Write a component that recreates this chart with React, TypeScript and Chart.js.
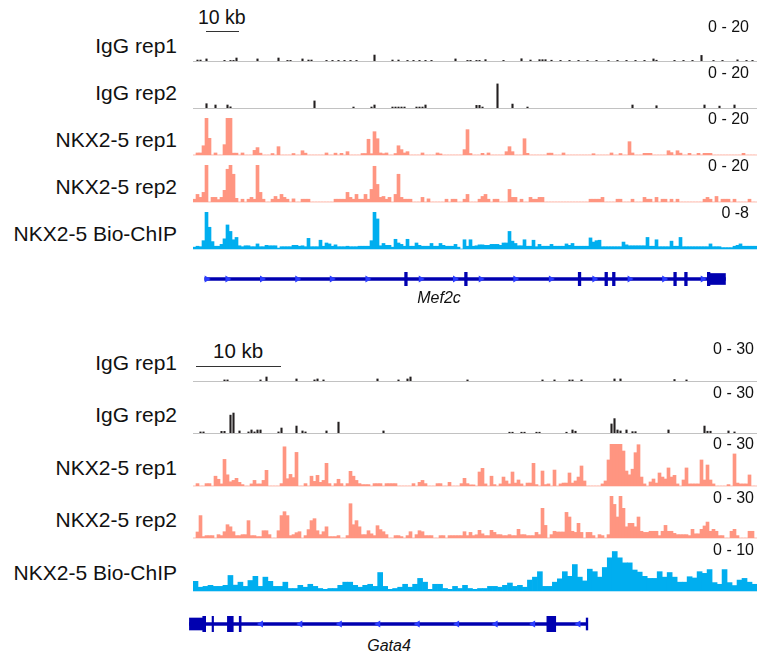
import React, { useEffect, useRef } from "react";
import { Chart, registerables } from "chart.js";

Chart.register(...registerables);

// ---------------- DATA ----------------
const TRACK_NAMES = ["IgG rep1", "IgG rep2", "NKX2-5 rep1", "NKX2-5 rep2", "NKX2-5 Bio-ChIP"];
const MEF2C_RANGES = ["0 - 20", "0 - 20", "0 - 20", "0 - 20", "0 -8"];
const MEF2C_MAX = [20, 20, 20, 20, 8];
const GATA4_RANGES = ["0 - 30", "0 - 30", "0 - 30", "0 - 30", "0 - 10"];
const GATA4_MAX = [30, 30, 30, 30, 10];

// Mef2c locus, 188 bins each
const IGG1_MEF2C = [
  0,0.7,0.7,0,1.3,0,0,0,0,0,0.5,0,0.5,0.5,1.8,0,0,0,0,0,
  0,1.3,0,0,0,0,0,0,1.8,0,0,0.5,0.5,0,0,0,1.3,0,0.7,0.7,
  0,0,0,0,0.5,0,0.5,0,0.5,0,0.5,0,0.5,0,0.5,0,0,0,0,0,
  3.4,0,0,0,0,0,0.7,0,0.7,0,0,0.5,0,0.5,0,0.5,0,0.5,0,0.5,
  0,0,0,0,0,0,0,1.3,0,0,0,0.5,0.5,0,0.5,0.5,0,0.9,0,0,
  0,0,0,0.5,0,0,0,0,0,1.4,0,0,0.7,0,0,0.9,0.9,0.9,0,0.6,
  0,0,0.5,0,0,0.5,0,0,0.5,0,0,0.5,0,0,0.5,0,0,0,0.5,0,
  0,0.5,0,0,0.5,0,0,0.5,0,0,0.5,0,0,1.3,0.6,0,0,0,0,0,
  0.5,0,0,0.5,0,0,0.5,0,0,3.2,0,0,0,0.5,0,0,0.5,0,0,0,
  0,0.8,0,0,0.5,0,0.5,0,
];
const IGG2_MEF2C = [
  0,0,0,0,2.5,0,0,1.8,0,0,0,1.8,0.8,0,0,0,0,0,0,0,
  0,0,0,0,0,0,0,0,0,0,0,0,0,0,0,0,0,0,0,0,
  4,0,0,0,0,0,0,0,0,0,0,0,0,0.7,0,0,0,0,0,0.7,
  1.8,0,0,0,0,0,0.7,0.7,0.7,0.7,0.7,0,0,0,0.7,0.7,0.7,1.8,0,0,
  0,0,0,0,0,0,0,0,0,0,0,0,0,0,1.6,1.6,0.7,0,0,0,
  0,13.2,0,0,0,0,2.3,0,0,0,0,0.7,0,0,0,0,0,0,0,0,
  0,0,0,0,0,0,0,0,0,0,0,0,0,0,0,0,0,0,0,0,
  0,0,0,0,0,0,1.8,0,0,0,0,0,0,0,1.4,0,0,0,0,0,
  0,0,0,0,0,0,0,0,0,0,1.8,0,0,0,0,1.2,0,0,0,0,
  1.8,0,0,0,0,0,0,0,
];
const NKX1_MEF2C = [
  0,1.1,1.1,5,20,9,0,1.1,0,0,5.6,20,20,1,1,0,1.1,0,0,0,
  2.5,4,1,0,0,0,0.8,0,4.5,0,0,0,0,0.8,0,0,2.3,1,0,0,
  0,0,0,0,1.1,0,0,1,0,0.9,0,1.8,0,0,0,0,0.8,0.8,8.5,0.7,
  12.6,8.8,1.1,0.7,1.1,0,0,0.8,5,2.9,1.1,1.8,0,0,0,0,1.1,0,0,0,
  0,1.1,0.6,0,0,0,0,0,0,0,2.9,13.7,0.8,0,0,0,0.9,0,1.1,0,
  0,0,0,0,1.8,4.5,1.8,0,0,0,8.8,0.9,0,0,0,0,0,0,1,1,
  0,0,0,1.1,0,0,0,0,0,0,0,0,0,0.7,0,0,0,0,0,1.1,
  0,0,0.8,0,0,7.2,1.1,0,0,0,0.9,0.9,0.9,0,0,0,0,0,2.3,1.3,
  0,2.3,1,0,0,0.9,0,0,0.9,0,0.9,0.9,0.9,0,0,0,0,0,0,0,
  0,0,0,0.9,0,0,0,0,
];
const NKX2_MEF2C = [
  1.5,4.1,2.5,5.2,20,0,2.5,2.5,1.3,2.5,6.3,17.7,20,15,2,0,1.5,0,1.5,2.5,
  1.5,20,5.2,1.5,0,0,1.5,3,1.5,4.1,2.5,1.5,0,1.7,0,0,1.5,1.5,1.5,0,
  0,0,0,0,0,0,0,1.5,1.5,1.5,1.5,5.2,2.5,1.5,4.1,1.5,1.5,4.1,1.5,6.8,
  19.3,9.5,2.5,3,1.5,2.5,0,4.1,15,2.5,1.5,1.5,1.5,0,0,0,2.5,0,1.7,0,
  0,0,0,0,1.5,0,1.5,1.5,0,0,1.5,4.1,0,0,0,1.5,3,4.1,1.5,0,
  1.5,1.5,0,0,0,6.8,2.5,2.5,0,1.5,0,0,2.5,1.5,1.5,2.5,2.5,0,0,0,
  0,0,0,0,0,0,0,0,0,0,0,0,1.5,1.5,1.5,1.5,2.5,0,0,0,
  0,1.5,1.5,0,0,0,1.5,0,0,0,2.5,1.5,1.5,0,2.5,0,1.5,1.5,0,1.5,
  0,1.5,0,0,0,0,0,0,0,0,1.5,2.5,1.5,0,3,0,1.5,1.5,1.5,0,
  1.5,0,0,0,0,1.5,0,0,
];
const BIO_MEF2C = [
  0.4,0.6,0.5,1.8,8,4.7,1.6,0.6,0.6,1,2.2,5.2,3.8,2,2.5,0.7,0.5,0.7,0.7,0.5,
  0.5,1.1,0.5,0.5,0.8,0.7,0.7,0.7,0.2,0.5,0.5,0.5,0.5,0.8,0.8,0.6,0.7,0.5,2.3,0.5,
  0.5,0.5,1.9,0.6,1.3,1.1,0.6,0.9,0.5,0.5,0.5,0.6,0.5,0.5,0.5,0.6,0.6,0.6,0.6,1.8,
  8,6.5,0.7,1.2,0.8,0.8,0.4,2.1,1.3,1,0.6,2.1,0.6,0.6,1.3,0.8,0.6,0.6,0.6,1.2,
  0.6,0.6,1.2,0.8,0.6,0.6,0.6,1,0.4,0,2,0.6,2,0.6,0.7,0.9,0.9,0.8,0.8,1,
  1,1,0.8,1.3,1.3,3.8,1.7,1.2,0.7,0.7,2,0.6,0.6,1.9,0.5,1,0.6,0.6,0.6,1,
  0.6,0.6,0.6,0.6,1.1,0.8,1.2,0.6,0.6,0.6,0.6,0.6,2.4,1.5,1.8,1.9,0.5,0.5,0.5,0.5,
  0.5,0.5,0.5,1.5,0.9,0.7,0.7,0.7,0.7,0.7,0.7,2.5,0.6,0.6,2,0.5,0.5,0.5,0.5,1.7,
  0.6,0.6,2.5,0.5,0.5,0.5,0.5,0.5,0.5,0.5,0.5,0.5,1.1,0.5,0.5,0.5,0.3,0.3,0.3,0.3,
  0.6,0.8,1.1,0.6,0.6,0.6,0.6,0.6,
];

// Gata4 locus, 188 bins (Bio-ChIP: 113 wider bins)
const IGG1_GATA4 = [
  0,0,0,0,0,0,0,0,0,0,1,1,0,0,0,0,0,0,0,0,
  0,0,1,0,3.1,0,0,0,0,0,0,0,0,0,1.7,0,0,0,0,0,
  1,1.7,0,1,0,0,0,0,0,0,0,0,0,0,0,0,0,0,0,0,
  0,1.7,0,0,0,0,0,0,1,0,0,1.7,3.1,0,0,0,0,0,0,0,
  0,0,0,0,0,0,0,0,0,0,0,1,0,0,0,0,0,0,0,0,
  0,0,0,0,0,0,0,0,0,0,0,0,0,0,0,0,1,0,0,0,
  1,0,0,0,0,1,1,0,0,1,0,0,0,0,0,0,0,0,0,0,
  1.7,0,1.7,0,0,0,0,0,0,0,0,0,0,0,0,0,0,0,0,0,
  1.3,0,0,0,1,0,0,0,0,0,0,0,0,0,0,0,0,0,0,0,
  0,0,0,0,0,0,0,0,
];
const IGG2_GATA4 = [
  0,0,1,1,0,0,0,0,0,1.4,1.4,0,13,14.5,0,1.7,0,0,1,2.4,
  1,2.4,2.4,0,0,0,0,0,1,3.8,0,0,0,0,5.2,0,1.7,1,0,0,
  0,0,0,0,1.7,0,0,0,8,0,0,0,0,0,0,0,0,0,0,0,
  0,0,0,1.7,0,0,0,0,0,0,0,0,0,0,0,0,0,0,0,0,
  0,0,0,0,0,0,0,0,0,0,0,0,0,0,0,0,0,0,0,0,
  0,0,0,0,0,0.8,0.8,0,0,0.8,0.8,0,0,0,0.8,0.8,0,0,0,0,
  0,0,0,0,0.8,0,2.4,1.5,0,0,0,0,0,0,0,0,0,0,0,6.7,
  10.5,2.4,1.7,0,2.4,0,1.2,1.2,0,0,0,0,0,0,0,0,0,0,2.4,0,
  0,0,0,0,0,0,0,0,0,0,5.2,1.5,1.5,0,0,0,0,0,1.7,0,
  1,0,0,0,0,0,0,0,
];
const NKX1_GATA4 = [
  0,1.7,0,0,1.7,1.7,0,7,4.8,1.5,19,8,3,4,5.5,2.6,1,0,0,1.5,
  4,1.5,1.5,4,11.2,0,0,0,0,1.7,28,5.2,8.3,6,24,0,0,1.7,0,7,
  3.3,7.6,2.6,4,16.2,1.7,0,1.7,4.8,1.7,0,1.7,10.5,7,4,1.7,1,1,1,0,
  1.7,1.7,1.7,0,1.7,1.7,1.7,1.7,0,0,0,0,0,1.7,0,2.6,4,1.7,0,0,
  0,1.7,1.7,0,0,2.6,0,0,0,1.7,5.5,1.7,0.8,0.8,0,10,12.6,1.5,0,7,
  1,0,1.5,6.4,3.6,1.5,10,2.1,4.3,1.5,0,2.1,2.1,16.2,1,0,10.7,1,1.5,0,
  11.4,0,1.5,2.1,2.1,9.3,2.1,3.6,6.4,14.3,3.6,0,0,0,0,0,1.5,3.6,18.6,30,
  30,30,30,25,10.7,8,12,23.8,29.5,6.4,1.5,0,2.9,5,2.1,9.3,6.4,5,12.9,6.4,
  7.6,1.5,0,4.3,12.9,1.5,1.5,1.5,1.5,18.6,4.3,15,4.3,1.5,0,0,0,0,1,0,
  22.9,2.1,1.5,1.5,1.5,7.9,0,0,
];
const NKX2_GATA4 = [
  0,4.3,16,1,1.7,1.7,1.7,0,2.4,1.7,4.5,9.5,8,4.5,1.7,1.7,2.4,2.4,12.4,1.7,
  1.7,1,1,5.2,5.2,2.4,0,0,5.2,16,18.8,16,1.7,2.4,3.8,4.5,0,1.7,6,12.4,
  13.8,5.2,2.4,4.5,8,1,1,1,1.7,0,0,1.7,24.5,9.5,12.4,8,2.4,2.4,5.2,3,
  1.7,8.8,6,4.5,2.4,0,0,1.7,1.7,1,0,1.7,4.5,0,2.4,5.2,4.5,1.7,1.7,1.7,
  0,0,1.7,1.7,0,1.7,1.7,1.7,1.7,1.7,4.5,1.7,4,1.7,2.3,5.5,3,1.7,1.7,5.5,
  4,2.4,2.4,1.7,1.7,2.4,1.7,1.7,6.2,2.4,2.4,1.7,1.7,1.7,4,2.4,21.2,9,0,2.4,
  4.8,4.3,4.3,4.3,18.3,15,4.8,4,10.5,4,0,4,4,1.7,0,2.4,1.7,0,2.4,30,
  24,15,30,21.2,8,10.5,10.5,8,15,4.8,4,4,4.8,4.8,4.8,1.7,4.8,9,4.8,4.8,
  3.3,2.4,2.4,2.4,2.4,1.7,6.2,3,3,6.2,8.6,11.4,4.8,6.2,4.8,1.7,1.7,0,0,4.8,
  6.2,1.7,0,0,0,4.8,4.8,0,
];
const BIO_GATA4 = [
  2.3,0.9,1.1,1.35,1.1,1.1,1.35,3.7,1.4,2.1,1.1,2.5,3.5,1.1,3.3,2.3,1.1,1.1,2.1,0.6,
  0.6,1.35,0.9,1.6,1.1,0.6,0.4,0.6,0.6,1.35,2.1,2.1,1.35,0.9,1.35,1.6,1.1,4.4,1.1,0.4,
  0.6,0.9,1.6,0.9,1.6,3,2.1,0.4,1.6,1.6,0.6,0.4,1.1,0.6,1.35,0.6,0.4,0.6,0.6,1.1,
  1.1,0.9,1.35,1.9,1.1,1.35,0.9,2.6,3.3,4.6,1.1,1.1,2.1,2.9,4.6,3.5,6.3,3.3,2.4,5.2,
  4.6,3.3,5.6,7.9,9.4,7.9,6.7,6.7,5,4.5,3.5,3,3,4.6,3.3,4.4,3.3,2.1,2.1,3.4,
  3.1,4.6,4.2,5.1,2,1.6,5.1,2,1.3,2.6,3,2.1,1.6,
];

// Gene models (kb from the left edge of the tracks)
const MEF2C_SPAN: [number, number] = [2.4, 160.5];
const MEF2C_EXONS: [number, number][] = [
  [63.1, 63.9], [81.3, 82.1], [115.8, 116.6], [123.9, 124.7],
  [126.2, 127.0], [144.8, 145.6], [148.1, 148.9], [155.0, 155.8],
];
const MEF2C_UTRS: [number, number][] = [[155.7, 160.5]];
const MEF2C_ARROWS = [3.0, 9.3, 19.8, 30.5, 41.0, 51.8, 68.0, 78.4, 86.2, 96.7, 107.5, 120.7, 131.4, 141.9, 153.6];

const GATA4_SPAN: [number, number] = [-0.88, 46.6];
const GATA4_EXONS: [number, number][] = [
  [0.71, 1.06], [1.82, 2.0], [3.65, 4.35], [5.06, 5.29], [41.76, 42.82],
];
const GATA4_UTRS: [number, number][] = [[-0.88, 0.82], [46.45, 46.65]];
const GATA4_ARROWS = [7.65, 12.35, 17.06, 21.65, 26.35, 31.06, 35.65, 40.12, 45.53];

// ---------------- STYLE ----------------
const FONT = '"Liberation Sans", Arial, Helvetica, sans-serif';
const IGG_COLOR = "#231f20";
const NKX_COLOR = "#ff9581";
const BIO_COLOR = "#00aeef";
const GENE_DARK = "#0000b0";
const GENE_ARROW = "#2a3cff";
const PAGE_W = 757;
const TRACK_LEFT = 193;
const TRACK_W = 564;

type TrackProps = {
  values: number[];
  max: number;
  color: string;
  baseColor: string;
  top: number;
  height: number;
  barPct: number;
};

function Track({ values, max, color, baseColor, top, height, barPct }: TrackProps) {
  const ref = useRef<HTMLCanvasElement>(null);
  useEffect(() => {
    const baseline = {
      id: "baseline",
      beforeDatasetsDraw(chart: any) {
        const { ctx, chartArea } = chart;
        ctx.save();
        ctx.fillStyle = baseColor;
        ctx.fillRect(chartArea.left, chartArea.bottom, chartArea.right - chartArea.left, 1);
        ctx.restore();
      },
    };
    const chart = new Chart(ref.current as HTMLCanvasElement, {
      type: "bar",
      data: {
        labels: values.map((_, i) => String(i)),
        datasets: [
          {
            data: values.map((v) => Math.min(v, max)),
            backgroundColor: color,
            borderWidth: 0,
            barPercentage: barPct,
            categoryPercentage: 1,
          },
        ],
      },
      options: {
        responsive: false,
        animation: false,
        devicePixelRatio: 1,
        events: [],
        layout: { padding: { bottom: 1 } },
        plugins: { legend: { display: false }, tooltip: { enabled: false } },
        scales: {
          x: { display: false },
          y: { display: false, min: 0, max },
        },
      },
      plugins: [baseline],
    } as any);
    return () => chart.destroy();
  }, []);
  return (
    <canvas
      ref={ref}
      width={TRACK_W}
      height={height + 1}
      style={{ position: "absolute", left: TRACK_LEFT, top, width: TRACK_W, height: height + 1 }}
    />
  );
}

type GeneProps = {
  span: [number, number];
  exons: [number, number][];
  utrs: [number, number][];
  arrows: number[];
  dir: number;
  pxPerKb: number;
  top: number;
  height: number;
  exonH: number;
  utrH: number;
};

function Gene({ span, exons, utrs, arrows, dir, pxPerKb, top, height, exonH, utrH }: GeneProps) {
  const ref = useRef<HTMLCanvasElement>(null);
  const left = 178;
  useEffect(() => {
    const chart = new Chart(ref.current as HTMLCanvasElement, {
      type: "bar",
      data: {
        labels: ["gene"],
        datasets: [
          {
            type: "scatter",
            data: arrows.map((a) => ({ x: a, y: "gene" })),
            pointStyle: "triangle",
            rotation: dir,
            pointRadius: 4,
            backgroundColor: GENE_ARROW,
            borderWidth: 0,
            order: 0,
          },
          {
            data: exons.map((e) => ({ x: e, y: "gene" })),
            backgroundColor: GENE_DARK,
            borderWidth: 0,
            barThickness: exonH,
            grouped: false,
            order: 1,
          },
          {
            data: utrs.map((e) => ({ x: e, y: "gene" })),
            backgroundColor: GENE_DARK,
            borderWidth: 0,
            barThickness: utrH,
            grouped: false,
            order: 2,
          },
          {
            data: [{ x: span, y: "gene" }],
            backgroundColor: GENE_DARK,
            borderWidth: 0,
            barThickness: 3,
            grouped: false,
            order: 3,
          },
        ],
      },
      options: {
        indexAxis: "y",
        responsive: false,
        animation: false,
        devicePixelRatio: 1,
        events: [],
        layout: { padding: 0 },
        plugins: { legend: { display: false }, tooltip: { enabled: false } },
        scales: {
          x: {
            type: "linear",
            display: false,
            min: (left - TRACK_LEFT) / pxPerKb,
            max: (PAGE_W - TRACK_LEFT) / pxPerKb,
          },
          y: { type: "category", display: false },
        },
      },
    } as any);
    return () => chart.destroy();
  }, []);
  return (
    <canvas
      ref={ref}
      width={PAGE_W - left}
      height={height}
      style={{ position: "absolute", left, top, width: PAGE_W - left, height }}
    />
  );
}

type LabelProps = { text: string; x: number; y: number; size: number; align: "left" | "right" | "center"; italic?: boolean };

function Label({ text, x, y, size, align, italic }: LabelProps) {
  const style: any = {
    position: "absolute",
    top: y,
    fontSize: size,
    lineHeight: 1,
    whiteSpace: "nowrap",
    fontStyle: italic ? "italic" : "normal",
    color: "#111",
  };
  if (align === "right") {
    style.right = PAGE_W - x;
    style.transform = "translateY(-50%)";
  } else if (align === "center") {
    style.left = x;
    style.transform = "translate(-50%, -50%)";
  } else {
    style.left = x;
    style.transform = "translateY(-50%)";
  }
  return <div style={style}>{text}</div>;
}

const MEF2C_TRACKS = [IGG1_MEF2C, IGG2_MEF2C, NKX1_MEF2C, NKX2_MEF2C, BIO_MEF2C];
const GATA4_TRACKS = [IGG1_GATA4, IGG2_GATA4, NKX1_GATA4, NKX2_GATA4, BIO_GATA4];
const TRACK_COLORS = [IGG_COLOR, IGG_COLOR, NKX_COLOR, NKX_COLOR, BIO_COLOR];
const BASE_COLORS = ["#c2c2c2", "#c2c2c2", "#fde0da", "#fde0da", "#b8e6f8"];
const BAR_PCT = [0.7, 0.7, 1, 1, 1];

const P1 = { baselines: [61, 108, 155, 202, 249], h: 37, labelDy: 16, rangeYs: [27, 73, 119, 166, 213], rangeRight: 749, pxPerKb: 3.34 };
const P2 = { baselines: [381, 433, 486, 538, 591], h: 42, labelDy: 19.5, rangeYs: [349, 393, 444, 498, 550], rangeRight: 754, pxPerKb: 8.5 };

export default function App() {
  return (
    <div
      style={{
        position: "absolute",
        left: 0,
        top: 0,
        width: PAGE_W,
        height: 655,
        background: "#fff",
        overflow: "hidden",
        fontFamily: FONT,
      }}
    >
      {/* ---- Mef2c panel ---- */}
      <Label text="10 kb" x={198} y={17.5} size={19.5} align="left" />
      <div style={{ position: "absolute", left: 206, top: 31, width: 10 * P1.pxPerKb, height: 1.4, background: "#333" }} />
      {MEF2C_TRACKS.map((vals, i) => (
        <Track
          key={"m" + i}
          values={vals}
          max={MEF2C_MAX[i]}
          color={TRACK_COLORS[i]}
          baseColor={BASE_COLORS[i]}
          top={P1.baselines[i] - P1.h}
          height={P1.h}
          barPct={BAR_PCT[i]}
        />
      ))}
      {TRACK_NAMES.map((t, i) => (
        <Label key={"ml" + i} text={t} x={177} y={P1.baselines[i] - P1.labelDy} size={21} align="right" />
      ))}
      {MEF2C_RANGES.map((t, i) => (
        <Label key={"mr" + i} text={t} x={P1.rangeRight} y={P1.rangeYs[i]} size={16} align="right" />
      ))}
      <Gene
        span={MEF2C_SPAN}
        exons={MEF2C_EXONS}
        utrs={MEF2C_UTRS}
        arrows={MEF2C_ARROWS}
        dir={90}
        pxPerKb={P1.pxPerKb}
        top={268}
        height={22}
        exonH={16}
        utrH={11}
      />
      <Label text="Mef2c" x={439} y={298} size={16} align="center" italic />

      {/* ---- Gata4 panel ---- */}
      <Label text="10 kb" x={213} y={350.5} size={20.5} align="left" />
      <div style={{ position: "absolute", left: 195.5, top: 366, width: 10 * P2.pxPerKb, height: 1.4, background: "#333" }} />
      {GATA4_TRACKS.map((vals, i) => (
        <Track
          key={"g" + i}
          values={vals}
          max={GATA4_MAX[i]}
          color={TRACK_COLORS[i]}
          baseColor={BASE_COLORS[i]}
          top={P2.baselines[i] - P2.h}
          height={P2.h}
          barPct={BAR_PCT[i]}
        />
      ))}
      {TRACK_NAMES.map((t, i) => (
        <Label key={"gl" + i} text={t} x={177} y={P2.baselines[i] - P2.labelDy} size={21} align="right" />
      ))}
      {GATA4_RANGES.map((t, i) => (
        <Label key={"gr" + i} text={t} x={P2.rangeRight} y={P2.rangeYs[i]} size={16} align="right" />
      ))}
      <Gene
        span={GATA4_SPAN}
        exons={GATA4_EXONS}
        utrs={GATA4_UTRS}
        arrows={GATA4_ARROWS}
        dir={-90}
        pxPerKb={P2.pxPerKb}
        top={612}
        height={24}
        exonH={19}
        utrH={12}
      />
      <Label text="Gata4" x={389} y={646} size={16} align="center" italic />
    </div>
  );
}
